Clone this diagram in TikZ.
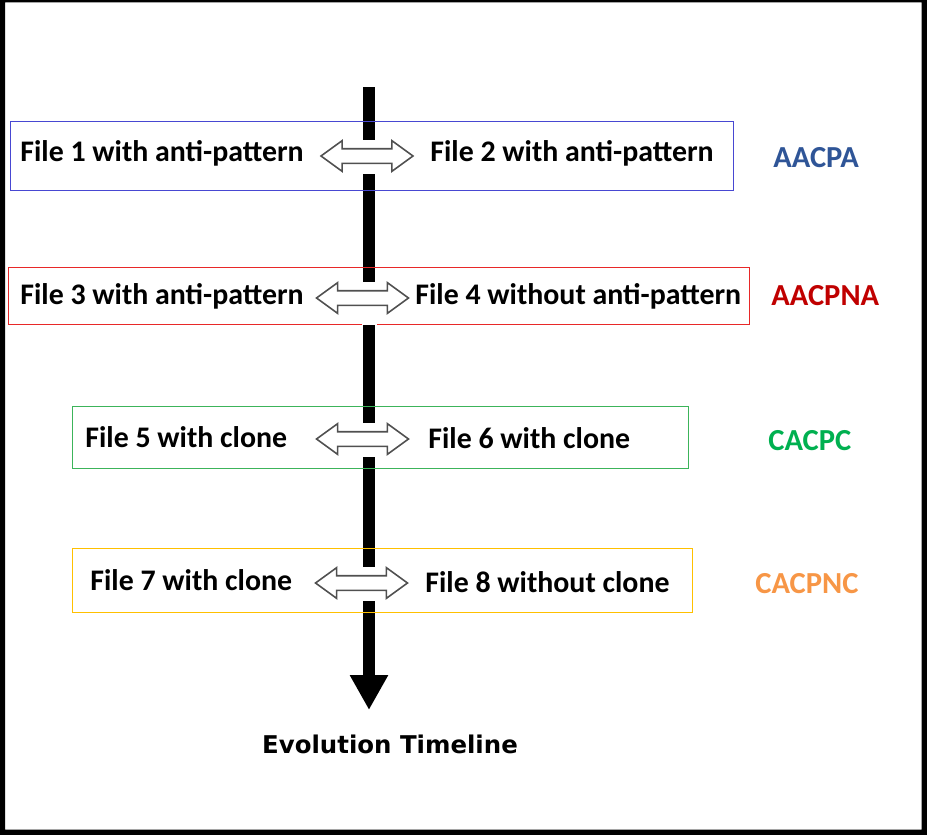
\documentclass[tikz,border=0pt]{standalone}
\usepackage{fontspec}
\setmainfont{Carlito}
\newfontfamily\timefont{DejaVu Sans}
\usetikzlibrary{arrows.meta,shapes.arrows}

\definecolor{boxblue}{RGB}{72,72,210}
\definecolor{tagblue}{RGB}{47,85,151}
\definecolor{boxred}{RGB}{232,40,40}
\definecolor{tagred}{RGB}{192,0,0}
\definecolor{boxgreen}{RGB}{60,180,90}
\definecolor{taggreen}{RGB}{0,176,80}
\definecolor{boxgold}{RGB}{255,192,0}
\definecolor{tagorange}{RGB}{247,150,70}
\definecolor{swapgray}{RGB}{80,80,80}

\begin{document}
\begin{tikzpicture}[x=0.02cm,y=-0.02cm,
		filetext/.style={anchor=west,inner sep=0pt,font=\fontsize{17}{20}\selectfont\bfseries},
		tagtext/.style={anchor=west,inner sep=0pt,font=\fontsize{17.4}{20}\selectfont\bfseries},
		gap/.style={fill=white,inner sep=0pt,minimum width=0.3cm,minimum height=0.68cm},
		swap/.style={double arrow,draw=swapgray,fill=white,line width=0.9pt,inner xsep=0pt,inner ysep=0.13cm,
			minimum height=1.84cm,double arrow head extend=0.16cm,double arrow tip angle=72}]
			\useasboundingbox (0,0) rectangle (927,835);
			\fill[black,even odd rule] (0,0) rectangle (927,835) (5,2.5) rectangle (921.5,829.5);
			
			\coordinate (top) at (369,87);
			\coordinate (bottom) at (369,710);
			\draw[line width=0.24cm,-{Triangle[length=0.7cm,width=0.72cm]}] (top) -- (bottom);
			\node[font=\timefont\fontsize{13.9}{16}\selectfont\bfseries] (time) at (390,744) {Evolution Timeline};
			
			\draw[boxblue] (10.5,121.5) rectangle (733.5,190.5);
			\draw[boxred] (8.5,267.5) rectangle (749.5,324.5);
			\draw[boxgreen] (72.5,406.5) rectangle (688.5,468.5);
			\draw[boxgold] (72.5,548.5) rectangle (692.5,612.5);
			
			\node[gap] (g1) at (369,157) {};
			\node[gap,minimum height=0.86cm] (g2) at (369,303.5) {};
			\node[gap] (g3) at (369,440) {};
			\node[gap] (g4) at (369,584) {};
			\node[swap] (da1) at (367,156) {};
			\node[swap] (da2) at (362.5,298) {};
			\node[swap] (da3) at (362.5,439) {};
			\node[swap] (da4) at (361.5,583) {};
			
			\node[filetext] (l1) at (20,153) {File 1 with anti-pattern};
			\node[filetext] (r1) at (430,153) {File 2 with anti-pattern};
			\node[filetext] (l2) at (20,296) {File 3 with anti-pattern};
			\node[filetext] (r2) at (415,296) {File 4 without anti-pattern};
			\node[filetext] (l3) at (85,437) {File 5 with clone};
			\node[filetext] (r3) at (428,438) {File 6 with clone};
			\node[filetext] (l4) at (90,580) {File 7 with clone};
			\node[filetext] (r4) at (425,582) {File 8 without clone};
			
			\node[tagtext,tagblue] (tag1) at (773,158) {AACPA};
			\node[tagtext,tagred] (tag2) at (771,296) {AACPNA};
			\node[tagtext,taggreen] (tag3) at (768,441) {CACPC};
			\node[tagtext,tagorange] (tag4) at (755,584) {CACPNC};
		\end{tikzpicture}
\end{document}
